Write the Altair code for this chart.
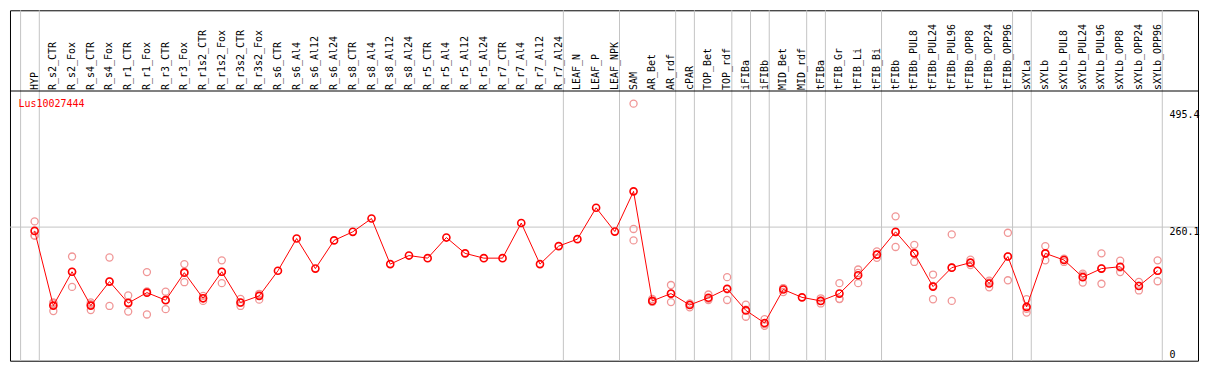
import altair as alt
import pandas as pd

# ---------------- data ----------------
gene = "Lus10027444"
categories = [
    "HYP", "R_s2_CTR", "R_s2_Fox", "R_s4_CTR", "R_s4_Fox", "R_r1_CTR", "R_r1_Fox",
    "R_r3_CTR", "R_r3_Fox", "R_r1s2_CTR", "R_r1s2_Fox", "R_r3s2_CTR", "R_r3s2_Fox",
    "R_s6_CTR", "R_s6_Al4", "R_s6_Al12", "R_s6_Al24", "R_s8_CTR", "R_s8_Al4",
    "R_s8_Al12", "R_s8_Al24", "R_r5_CTR", "R_r5_Al4", "R_r5_Al12", "R_r5_Al24",
    "R_r7_CTR", "R_r7_Al4", "R_r7_Al12", "R_r7_Al24", "LEAF_N", "LEAF_P", "LEAF_NPK",
    "SAM", "AR_Bet", "AR_rdf", "cPAR", "TOP_Bet", "TOP_rdf", "iFIBa", "iFIBb",
    "MID_Bet", "MID_rdf", "tFIBa", "tFIB_Gr", "tFIB_Li", "tFIB_Bi", "tFIBb",
    "tFIBb_PUL8", "tFIBb_PUL24", "tFIBb_PUL96", "tFIBb_OPP8", "tFIBb_OPP24",
    "tFIBb_OPP96", "sXYLa", "sXYLb", "sXYLb_PUL8", "sXYLb_PUL24", "sXYLb_PUL96",
    "sXYLb_OPP8", "sXYLb_OPP24", "sXYLb_OPP96",
]
means = [
    252.5, 102.3, 170.4, 102.3, 150.6, 107.4, 128.4, 113.2, 168.5, 117.0, 170.4,
    108.6, 121.9, 172.3, 237.2, 176.7, 233.4, 250.6, 277.3, 185.7, 202.9, 197.7,
    239.1, 207.3, 197.7, 197.7, 268.3, 185.7, 221.9, 235.9, 298.9, 251.1, 331.9,
    111.8, 126.5, 103.6, 118.1, 136.1, 92.7, 67.4, 134.7, 118.9, 111.8, 126.5,
    163.4, 204.8, 250.6, 207.3, 140.5, 178.6, 188.7, 146.8, 201.0, 99.8, 207.3,
    193.9, 159.5, 176.7, 180.5, 141.8, 172.3,
]
N = None
rep_a = [271.6, 108.6, 201.0, 108.6, 199.0, 122.7, 169.7, 130.3, 185.7, 121.9, 193.3,
         115.6, 125.2, N, N, N, N, N, N, N, N, N, N, N, N, N, N, N, N, N, N, N,
         508.2, 115.6, 143.7, 99.0, 124.6, 159.5, 104.2, 75.0, 137.6, N, 117.0, 147.5,
         174.8, 211.1, 281.7, 224.4, 164.7, 245.4, 194.5, 152.5, 248.7, 115.1, 221.9,
         196.4, 166.6, 207.3, 192.6, 150.0, 193.3]
rep_b = [242.9, 91.4, 139.9, 93.3, 101.7, 90.3, 84.5, 95.2, 149.4, 111.8, 147.5,
         101.7, 114.3, N, N, N, N, N, N, N, N, N, N, N, N, N, N, N, N, N, N, N,
         233.4, 110.0, 109.4, 106.0, 113.7, 113.7, 80.0, 61.6, 129.6, N, 106.7, 115.6,
         147.5, 198.3, 220.2, 190.1, 115.1, 111.8, 183.8, 139.1, 153.2, 88.4, 193.3,
         190.1, 148.7, 146.2, 169.7, 132.8, 151.3]
rep_c = [242.9, 107.0, 170.0, 105.0, 151.0, 109.0, 131.0, 114.0, 170.0, 117.0, 170.0,
         108.0, 126.0, N, N, N, N, N, N, N, N, N, N, N, N, N, N, N, N, N, N, N,
         256.3, 110.0, 126.0, 106.0, 116.0, 135.0, 94.0, 65.0, 137.0, N, 112.0, 116.0,
         168.0, 205.0, 250.0, 207.0, 142.0, 179.0, 188.0, 149.0, 201.0, 96.0, 207.0,
         195.0, 163.0, 177.0, 179.0, 142.6, 172.0]
group_ends = ["HYP", "R_r7_Al24", "LEAF_NPK", "AR_rdf", "cPAR", "TOP_rdf", "iFIBa",
              "iFIBb", "MID_rdf", "tFIBa", "tFIB_Bi", "tFIBb_OPP96", "sXYLa", "sXYLb_OPP96"]
ref_value = 260.1
tick_values = [495.4, 260.1]

# ---------------- layout ----------------
W, H = 1190, 351
sx, sy = W / 1206.0, H / 369.0
FONT = "DejaVu Sans Mono"
RED = "#ff0000"
PINK = "#f09696"
GRID = "#c4c4c4"

df = pd.DataFrame({"idx": list(range(len(categories))), "name": categories, "mean": means})
rows = []
for i, c in enumerate(categories):
    for r in (rep_a[i], rep_b[i], rep_c[i]):
        if r is not None:
            rows.append({"idx": i, "name": c, "value": r})
reps = pd.DataFrame(rows)
sep = pd.DataFrame({"pos": [-0.75] + [categories.index(g) + 0.25 for g in group_ends]})
ticks = pd.DataFrame({"v": tick_values, "lab": [str(t) for t in tick_values]})

xs = alt.Scale(domain=[-1.3158, 62.158], nice=False, zero=False)
ys = alt.Scale(domain=[-8.4, 695.8], nice=False, zero=False)

vgrid = alt.Chart(sep).mark_rule(color=GRID, strokeWidth=1).encode(
    x=alt.X("pos:Q", scale=xs, axis=None), y=alt.value(0), y2=alt.value(H))
hgrid = alt.Chart(pd.DataFrame({"v": [ref_value]})).mark_rule(color=GRID, strokeWidth=1).encode(
    y=alt.Y("v:Q", scale=ys, axis=None), x=alt.value(0), x2=alt.value(W))
header_line = alt.Chart(pd.DataFrame({"a": [0]})).mark_rule(color="black", strokeWidth=1).encode(
    y=alt.value(85 * sy), x=alt.value(0), x2=alt.value(W))
labels = alt.Chart(df).mark_text(angle=270, align="left", baseline="middle", font=FONT,
                                 fontSize=10, color="black").encode(
    x=alt.X("idx:Q", scale=xs, axis=None), y=alt.value(84 * sy), text="name:N")
title = alt.Chart(pd.DataFrame({"t": [gene]})).mark_text(
    align="left", baseline="top", font=FONT, fontSize=10, color=RED).encode(
    x=alt.value(8.7 * sx), y=alt.value(93.5 * sy), text="t:N")
ylabels = alt.Chart(ticks).mark_text(align="left", baseline="top", font=FONT, fontSize=10,
                                     color="black").encode(
    x=alt.value(1177 * sx), y=alt.Y("v:Q", scale=ys, axis=None), text="lab:N")
zero_label = alt.Chart(pd.DataFrame({"v": [0], "lab": ["0"]})).mark_text(
    align="left", baseline="alphabetic", dy=1.5, font=FONT, fontSize=10, color="black").encode(
    x=alt.value(1177 * sx), y=alt.Y("v:Q", scale=ys, axis=None), text="lab:N")
rep_pts = alt.Chart(reps).mark_point(shape="circle", size=50, filled=False, color=PINK,
                                     strokeWidth=1.3, opacity=1).encode(
    x=alt.X("idx:Q", scale=xs, axis=None), y=alt.Y("value:Q", scale=ys, axis=None))
line = alt.Chart(df).mark_line(color=RED, strokeWidth=1).encode(
    x=alt.X("idx:Q", scale=xs, axis=None), y=alt.Y("mean:Q", scale=ys, axis=None))
mean_pts = alt.Chart(df).mark_point(shape="circle", size=50, filled=False, color=RED,
                                    strokeWidth=1.6, opacity=1).encode(
    x=alt.X("idx:Q", scale=xs, axis=None), y=alt.Y("mean:Q", scale=ys, axis=None))

chart = alt.layer(vgrid, hgrid, header_line, labels, title, ylabels, zero_label,
                  rep_pts, line, mean_pts).properties(
    width=W, height=H, padding={"left": 1, "top": 1, "right": 1, "bottom": 1},
    background="white",
).configure_view(stroke="black", strokeWidth=1)

chart.save("out.html", embed_options={"renderer": "svg", "actions": False})
